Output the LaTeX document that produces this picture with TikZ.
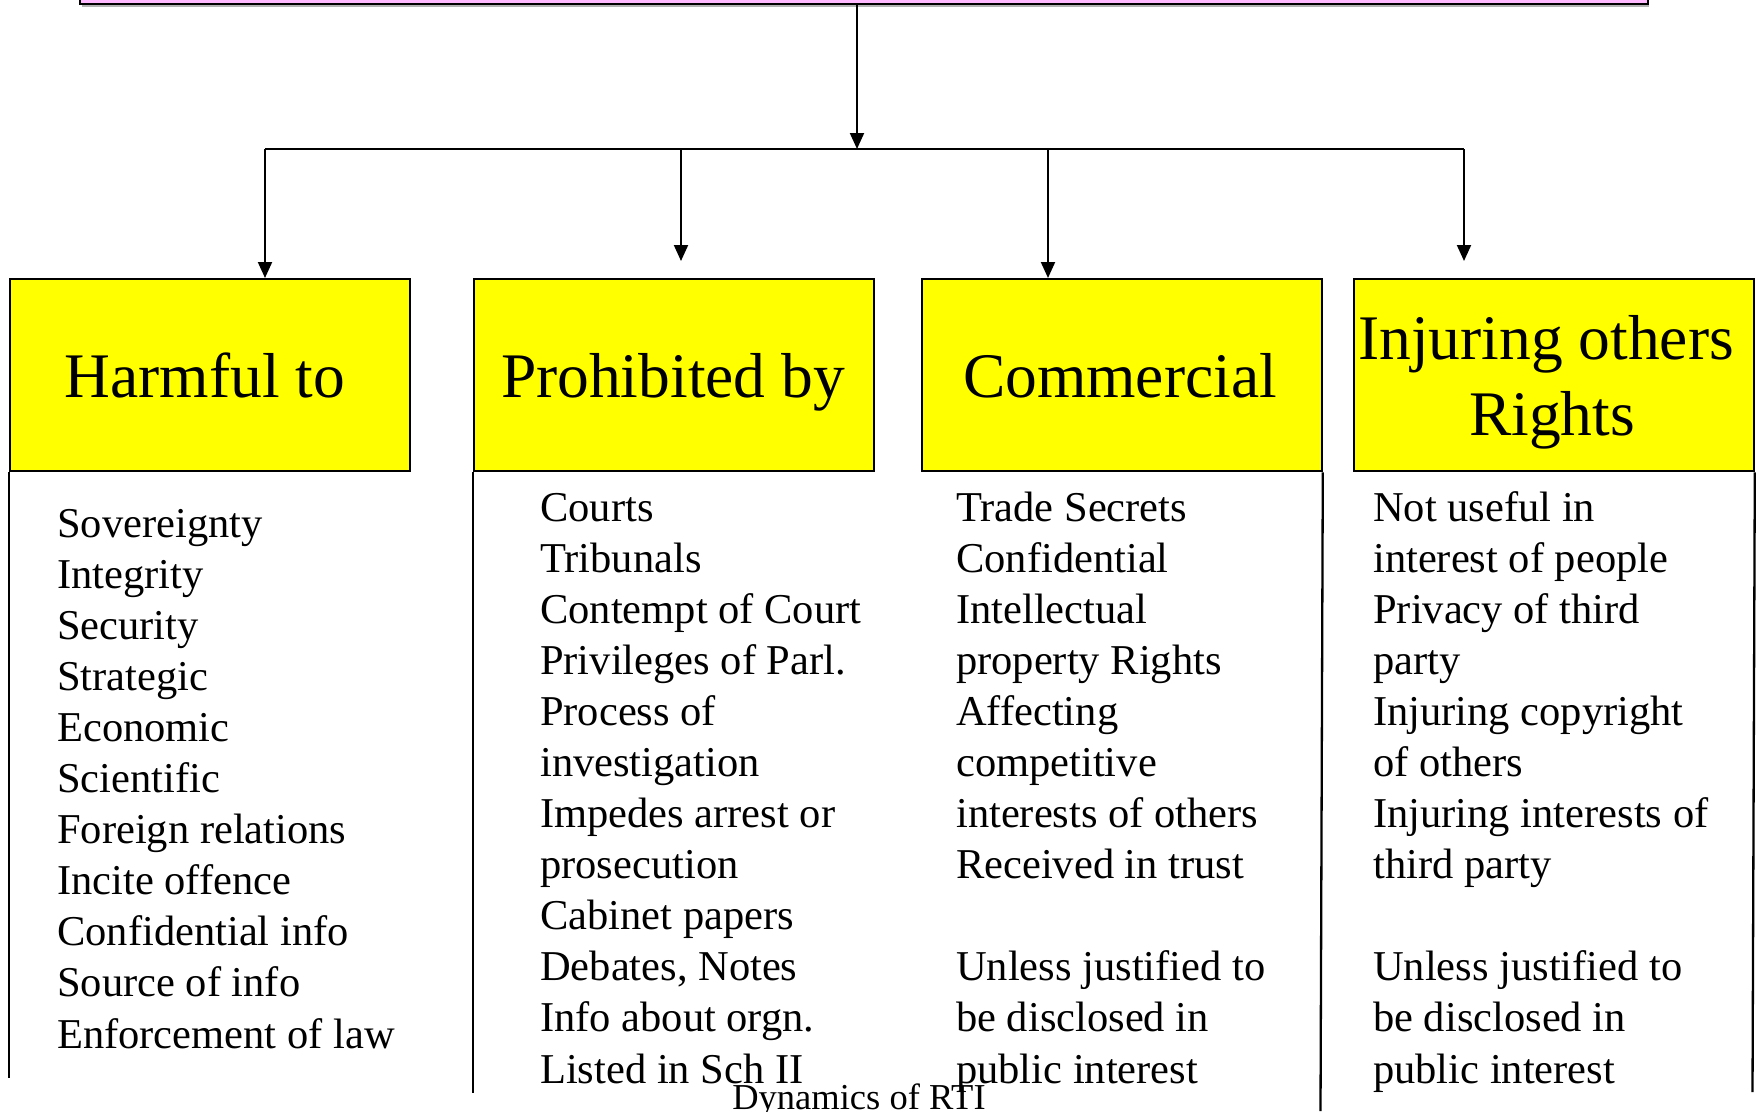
\documentclass[tikz,border=0pt]{standalone}
\usepackage{fontspec}
\setmainfont{Liberation Serif}
\usetikzlibrary{arrows.meta}
\definecolor{pinkfill}{RGB}{255,185,255}
\definecolor{yel}{RGB}{255,255,0}
\begin{document}
\begin{tikzpicture}[x=1pt,y=-1pt,
  ybox/.style={draw=black,line width=2.3pt,fill=yel,rectangle,inner sep=0pt,anchor=north west,minimum width=400pt,minimum height=192pt},
  ttl/.style={font=\fontsize{63.5}{76.2}\selectfont,anchor=base,inner sep=0pt,align=center},
  body/.style={font=\fontsize{42.5}{51.09}\selectfont,anchor=base west,inner sep=0pt,align=left},
  edge/.style={line width=2.3pt},
  conn/.style={line width=2pt},
  arr/.style={line width=2pt,-{Triangle[length=16pt,width=14pt]}}]
\useasboundingbox (0,0) rectangle (1758,1111);
% top pink box (only bottom visible)
\fill[gray!60] (82,-20) rectangle (1649,6.5);
\node[draw=black,line width=2pt,fill=pinkfill,rectangle,inner sep=0pt,anchor=south west,minimum width=1568pt,minimum height=30pt] (top) at (79,4.5) {};
% bar
\coordinate (bar) at (857,149);
\coordinate (bl) at (265,149);
\coordinate (br) at (1464,149);
\draw[conn] (bl) -- (br);
\draw[arr] (top.south -| bar) -- (bar);
% boxes
\node[ybox] (b1) at (9,278) {};
\node[ybox] (b2) at (473,278) {};
\node[ybox] (b3) at (920.5,278) {};
\node[ybox] (b4) at (1352.5,278) {};
% branch arrows
\coordinate (e2) at (681,261);
\coordinate (e3) at (1048,149);
\coordinate (e4) at (1464,261);
\draw[arr] (bl) -- (bl |- b1.north);
\draw[arr] (bl -| e2) -- (e2);
\draw[arr] (e3) -- (e3 |- b3.north);
\draw[arr] (br) -- (e4);
% column edges
\coordinate (c1) at (9,1078);
\coordinate (c2) at (473,1093);
\coordinate (c3) at (1320.5,1111);
\coordinate (c4) at (1752.5,1092);
\draw[edge] (b1.south west) -- (c1);
\draw[edge] (b2.south west) -- (c2);
\draw[edge] (b3.south east) -- (c3);
\draw[edge] (b4.south east) -- (c4);
% titles
\node[ttl] (t1) at (205,397) {Harmful to};
\node[ttl] (t2) at (673,397) {Prohibited by};
\node[ttl] (t3) at (1120,397) {Commercial};
\node[ttl] (t4a) at (1546,359) {Injuring others};
\node[ttl] (t4b) at (1552,435) {Rights};
% bodies (anchor = baseline of last line)
\node[body] (l1) at (57,1048) {Sovereignty\\Integrity\\Security\\Strategic\\Economic\\Scientific\\Foreign relations\\Incite offence\\Confidential info\\Source of info\\Enforcement of law};
\node[body] (l2) at (540,1083) {Courts\\Tribunals\\Contempt of Court\\Privileges of Parl.\\Process of\\investigation\\Impedes arrest or\\prosecution\\Cabinet papers\\Debates, Notes\\Info about orgn.\\Listed in Sch II};
\node[body] (l3) at (956,1083) {Trade Secrets\\Confidential\\Intellectual\\property Rights\\Affecting\\competitive\\interests of others\\Received in trust\\[51.09pt]Unless justified to\\be disclosed in\\public interest};
\node[body] (l4) at (1373,1083) {Not useful in\\interest of people\\Privacy of third\\party\\Injuring copyright\\of others\\Injuring interests of\\third party\\[51.09pt]Unless justified to\\be disclosed in\\public interest};
\node[font=\fontsize{36.5}{44}\selectfont,anchor=base,inner sep=0pt] (foot) at (859,1109) {Dynamics of RTI};
\end{tikzpicture}
\end{document}
